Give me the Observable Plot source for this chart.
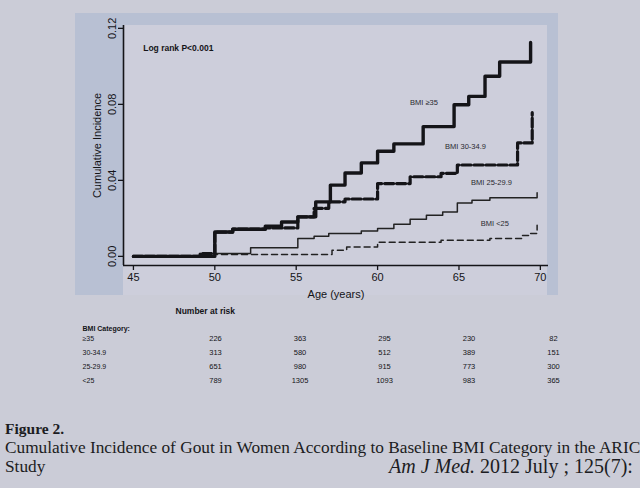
<!DOCTYPE html>
<html><head><meta charset="utf-8">
<script src="https://cdn.jsdelivr.net/npm/d3@7"></script>
<script src="https://cdn.jsdelivr.net/npm/@observablehq/plot@0.6"></script>
<style>
html,body{margin:0;padding:0;}
body{width:640px;height:488px;overflow:hidden;background:#cbccd7;position:relative;font-family:Arial,"Liberation Sans",sans-serif;}
#band{position:absolute;left:75px;top:13px;width:483px;height:282px;background:#b8c0d3;}
#inner{position:absolute;left:123px;top:25px;width:424px;height:270px;background:#cdcedb;}
#chart{position:absolute;left:0;top:0;}
#table{position:absolute;left:0;top:296px;}
.cap{position:absolute;font-family:"Liberation Serif","Times New Roman",serif;color:#1c1c22;white-space:nowrap;}
</style>
</head><body>
<div id="band"></div><div id="inner"></div>
<div id="chart"></div>
<div id="table"></div>
<div class="cap" style="left:5px;top:420px;font-size:15.5px;font-weight:bold;">Figure 2.</div>
<div class="cap" style="left:5px;top:438px;font-size:17.3px;">Cumulative Incidence of Gout in Women According to Baseline BMI Category in the ARIC</div>
<div class="cap" style="left:5px;top:457px;font-size:17.3px;">Study</div>
<div class="cap" style="left:389px;top:455px;font-size:20px;"><i>Am J Med.</i> 2012 July ; 125(7):</div>
<script>
// ---- data ----
const xTicks = [45, 50, 55, 60, 65, 70];
const yTicks = [0, 0.04, 0.08, 0.12];

const bmi35Age = [45, 50.0, 51.1, 53.1, 54.1, 55.1, 56.2, 57.1, 58.0, 59.0, 60.0, 61.0, 62.8, 64.7, 65.6, 66.6, 67.5, 69.4];
const bmi35Val = [0, 0.0128, 0.0143, 0.0159, 0.0181, 0.0208, 0.0287, 0.0375, 0.0439, 0.0492, 0.0553, 0.0592, 0.0683, 0.0798, 0.0842, 0.0948, 0.1023, 0.1126];

const bmi30Age = [45, 49.1, 50.0, 51.1, 53.1, 55.1, 56.1, 57.0, 58.0, 60.0, 62.0, 63.9, 64.9, 68.6, 69.5];
const bmi30Val = [0, 0.0015, 0.0128, 0.0143, 0.0150, 0.0208, 0.0253, 0.0287, 0.0302, 0.0383, 0.0419, 0.0437, 0.0481, 0.0597, 0.0756];

const bmi25Age = [45, 50.0, 52.2, 55.1, 56.1, 57.0, 59.0, 60.0, 61.0, 62.0, 63.0, 64.0, 64.9, 65.8, 66.9, 69.8];
const bmi25Val = [0, 0.0015, 0.0046, 0.0094, 0.0106, 0.0120, 0.0133, 0.0147, 0.0169, 0.0196, 0.0217, 0.0233, 0.0281, 0.0296, 0.0309, 0.0335];

const bmiLowAge = [45, 50.0, 57.2, 58.1, 60.0, 63.9, 66.9, 68.9, 69.4, 69.8];
const bmiLowVal = [0, 0.0010, 0.0032, 0.0049, 0.0075, 0.0085, 0.0094, 0.0110, 0.0120, 0.0164];

const seriesNames = ["BMI \u226535", "BMI 30-34.9", "BMI 25-29.9", "BMI <25"];
const labelAge = [62.85, 65.4, 67.0, 67.2];
const labelVal = [0.081, 0.0576, 0.0386, 0.0174];

const pText = "Log rank P<0.001";

const riskCategories = ["\u226535", "30-34.9", "25-29.9", "<25"];
const riskAges = [50, 55, 60, 65, 70];
const risk35 = [226, 363, 295, 230, 82];
const risk30 = [313, 580, 512, 389, 151];
const risk25 = [651, 980, 915, 773, 300];
const riskLow = [789, 1305, 1093, 983, 365];

// ---- build tables ----
const toRows = (ages, vals) => ages.map((a, i) => ({age: a, v: vals[i]}));
const s35 = toRows(bmi35Age, bmi35Val);
const s30 = toRows(bmi30Age, bmi30Val);
const s25 = toRows(bmi25Age, bmi25Val);
const sLow = toRows(bmiLowAge, bmiLowVal);
const labels = seriesNames.map((n, i) => ({name: n, age: labelAge[i], v: labelVal[i]}));

const xDomain = [44.39, 70.5];
const yDomain = [-0.0048, 0.1215];
const ink = "#141418";

const chart = Plot.plot({
  width: 640, height: 300,
  marginLeft: 123, marginRight: 92, marginTop: 25, marginBottom: 35,
  style: {background: "transparent", fontFamily: "Arial, 'Liberation Sans', sans-serif", color: ink},
  x: {domain: xDomain},
  y: {domain: yDomain},
  marks: [
    Plot.axisX({ticks: xTicks, tickSize: 5, tickPadding: 3, fontSize: 11, label: "Age (years)", labelAnchor: "center", labelArrow: "none", labelOffset: 32, strokeWidth: 1.3}),
    Plot.axisY({ticks: yTicks, tickFormat: d => d.toFixed(2), tickSize: 5, tickPadding: 3, tickRotate: -90, fontSize: 11, label: "Cumulative Incidence", labelAnchor: "center", labelArrow: "none", labelOffset: 30, strokeWidth: 1.3}),
    Plot.ruleX([xDomain[0]], {stroke: ink, strokeWidth: 1.6}),
    Plot.ruleY([yDomain[0]], {stroke: ink, strokeWidth: 1.6}),
    Plot.line(sLow, {x: "age", y: "v", curve: "step-after", stroke: "#222", strokeWidth: 1.5, strokeDasharray: "6,4"}),
    Plot.line(s25, {x: "age", y: "v", curve: "step-after", stroke: "#222", strokeWidth: 1.5}),
    Plot.line(s30, {x: "age", y: "v", curve: "step-after", stroke: ink, strokeWidth: 3.2, strokeDasharray: "9,3"}),
    Plot.line(s35, {x: "age", y: "v", curve: "step-after", stroke: ink, strokeWidth: 3.4}),
    Plot.text(labels, {x: "age", y: "v", text: "name", fontSize: 7.5, fill: "#2a2a30"}),
    Plot.text([pText], {x: 45.6, y: 0.1094, text: d => d, textAnchor: "start", fontSize: 8.5, fontWeight: "bold", fill: ink})
  ]
});
document.getElementById("chart").append(chart);

const riskRows = [];
[risk35, risk30, risk25, riskLow].forEach((arr, i) => arr.forEach((n, j) => riskRows.push({cat: riskCategories[i], age: riskAges[j], n})));

const table = Plot.plot({
  width: 640, height: 92,
  marginLeft: 215, marginRight: 87, marginTop: 0, marginBottom: 0,
  style: {background: "transparent", fontFamily: "Arial, 'Liberation Sans', sans-serif"},
  x: {domain: [50, 70], axis: null},
  y: {type: "point", domain: riskCategories, range: [42, 84], padding: 0, axis: null},
  marks: [
    Plot.text(["Number at risk"], {frameAnchor: "top-left", dx: -40, dy: 11, text: d => d, textAnchor: "start", fontSize: 8.5, fontWeight: "bold", fill: ink}),
    Plot.text(["BMI Category:"], {frameAnchor: "top-left", dx: -133, dy: 30, text: d => d, textAnchor: "start", fontSize: 7, fontWeight: "bold", fill: ink}),
    Plot.text(riskCategories, {y: d => d, text: d => d, frameAnchor: "left", dx: -133, textAnchor: "start", fontSize: 7, fill: ink}),
    Plot.text(riskRows, {x: "age", y: "cat", text: d => String(d.n), fontSize: 7.5, fill: ink})
  ]
});
document.getElementById("table").append(table);
</script>
</body></html>
